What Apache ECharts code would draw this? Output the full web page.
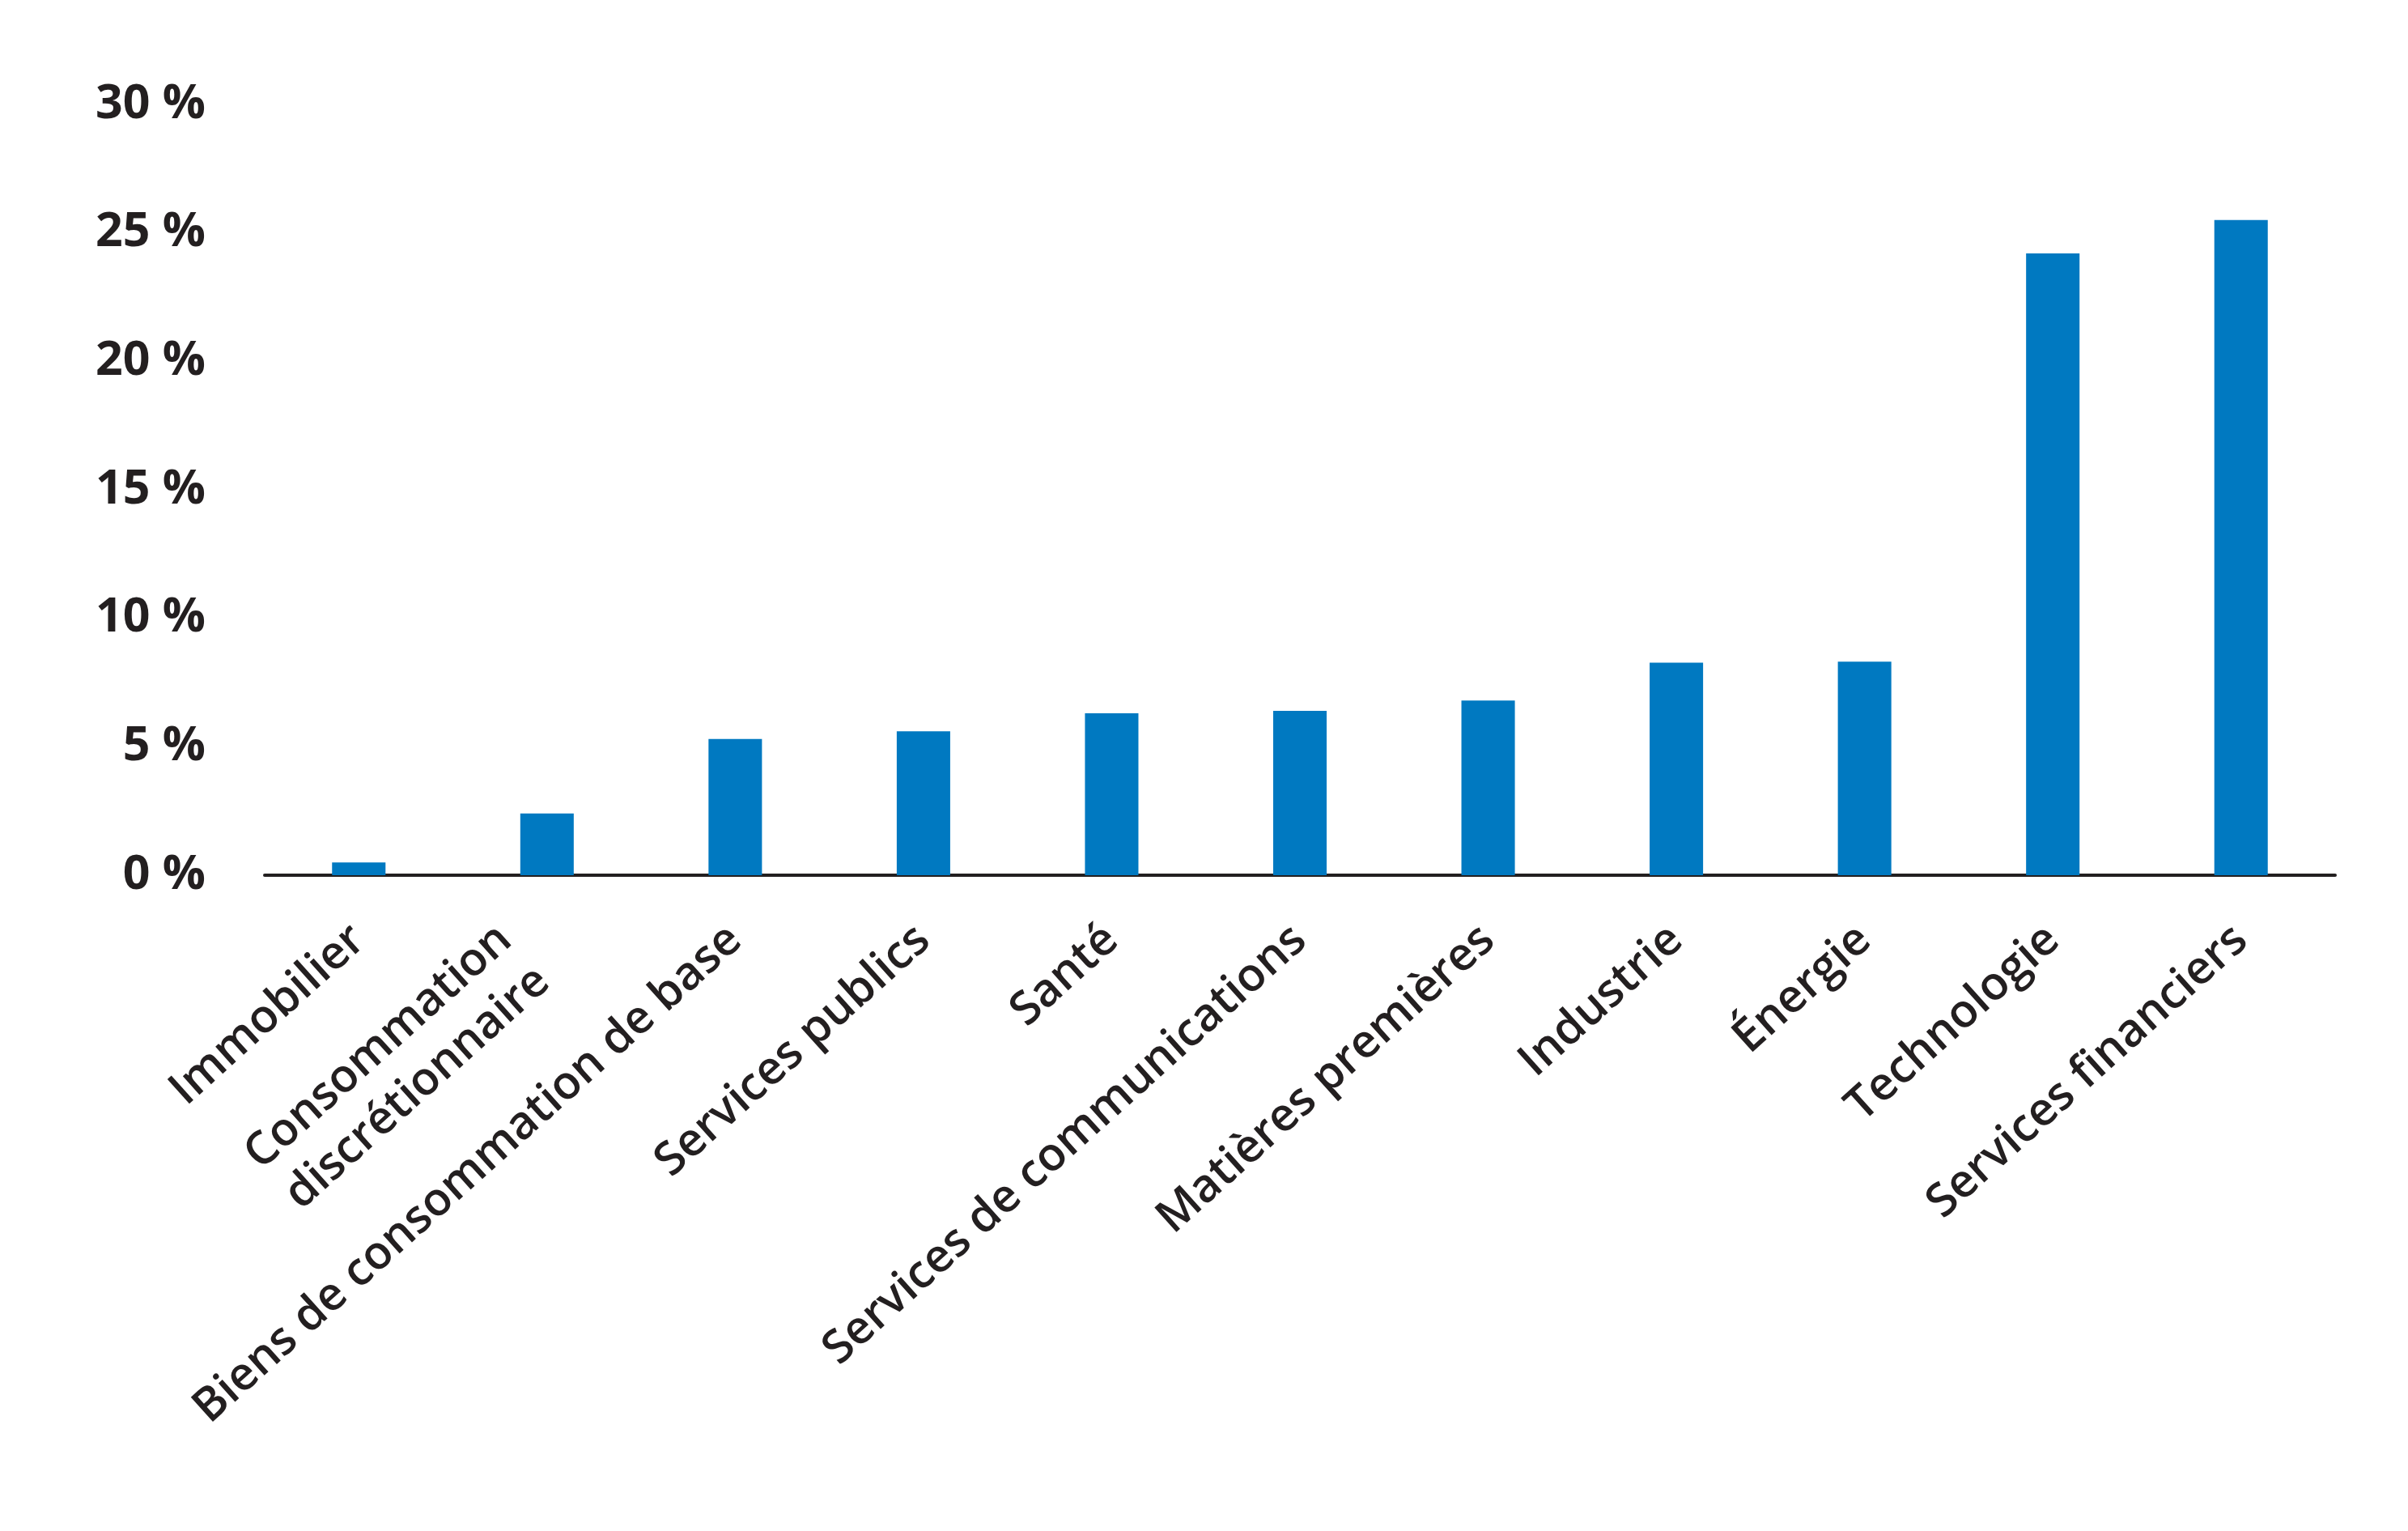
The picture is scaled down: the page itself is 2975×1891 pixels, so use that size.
<!DOCTYPE html>
<html>
<head>
<meta charset="utf-8">
<script src="https://cdn.jsdelivr.net/npm/echarts@6/dist/echarts.min.js"></script>
<style>
	html, body {
		margin: 0;
		padding: 0;
		background: #ffffff;
	}

	#my_echarts {
		width: 2975px;
		height: 1891px;
	}
</style>
</head>
<body>
<div id="my_echarts"></div>
<script>
	var categories = ['Immobilier', 'Consommation\ndiscrétionnaire', 'Biens de consommation de base',
		'Services publics', 'Santé', 'Services de communications', 'Matières premières',
		'Industrie', 'Énergie', 'Technologie', 'Services financiers'];
	var values = [0.5, 2.4, 5.3, 5.6, 6.3, 6.4, 6.8, 8.27, 8.31, 24.2, 25.5];
	var yTicks = [0, 5, 10, 15, 20, 25, 30];

	// two-line label sits a little lower/left in the original
	var xData = categories.map(function(c) {
		if (c.indexOf('\n') >= 0) {
			return { value: c, textStyle: { padding: [0, 38, 0, 0] } };
		}
		return c;
	});

	var myChart = echarts.init(document.getElementById('my_echarts'));
	var option = {
		animation: false,
		grid: {
			left: 327,
			right: 90,
			top: 129,
			bottom: 810,
			containLabel: false
		},
		xAxis: {
			type: 'category',
			data: xData,
			axisLine: {
				lineStyle: {
					color: '#231f20',
					width: 4
				}
			},
			axisTick: {
				show: false
			},
			axisLabel: {
				interval: 0,
				rotate: 42,
				margin: 72,
				color: '#231f20',
				fontFamily: 'Open Sans',
				fontWeight: 600,
				fontSize: 57,
				lineHeight: 70
			}
		},
		yAxis: {
			type: 'value',
			min: yTicks[0],
			max: yTicks[yTicks.length - 1],
			interval: 5,
			axisLine: {
				show: false
			},
			axisTick: {
				show: false
			},
			splitLine: {
				show: false
			},
			axisLabel: {
				margin: 73,
				color: '#231f20',
				fontFamily: 'Open Sans',
				fontWeight: 700,
				fontSize: 59,
				formatter: function(v) {
					return v + ' %';
				}
			}
		},
		series: [{
			type: 'bar',
			data: values,
			barWidth: '28.4%',
			itemStyle: {
				color: '#0079c1'
			}
		}]
	};
	myChart.setOption(option);
</script>
</body>
</html>
